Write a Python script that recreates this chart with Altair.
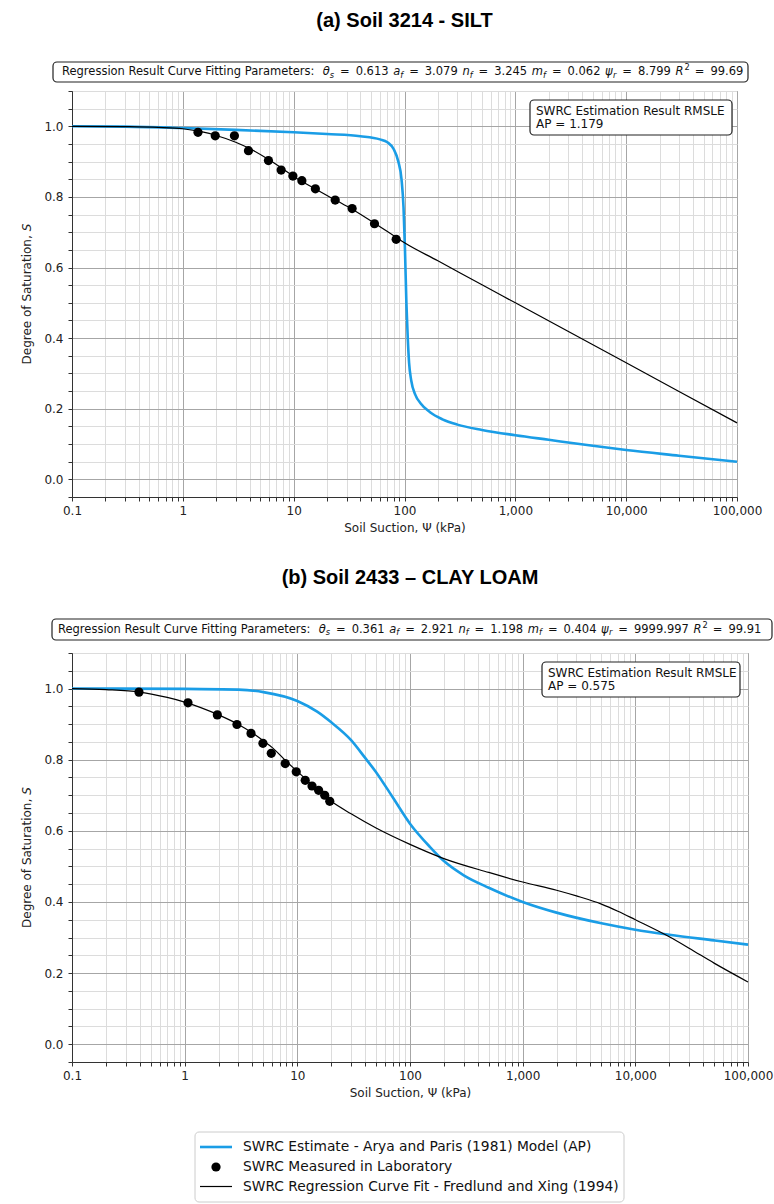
import altair as alt
import pandas as pd

# ---------------- data ----------------
# Soil 3214 (silt)
psi_meas_a = [1.37, 1.96, 2.92, 3.91, 5.92, 7.71, 9.84, 11.86, 15.7, 23.7, 33.7, 53.6, 84.1]
sat_meas_a = [0.983, 0.973, 0.973, 0.931, 0.903, 0.876, 0.859, 0.846, 0.823, 0.791, 0.767, 0.724, 0.680]
psi_fit_a = [0.1, 0.3, 0.6, 1, 1.5, 2, 3, 4, 6, 8, 10, 15, 20, 30, 50, 80, 100, 200, 500, 1000, 10000, 100000]
sat_fit_a = [1.0, 0.999, 0.997, 0.993, 0.984, 0.974, 0.955, 0.937, 0.905, 0.879, 0.858, 0.826, 0.804, 0.774,
             0.732, 0.690, 0.670, 0.619, 0.551, 0.500, 0.330, 0.160]
psi_ap_a = [0.1, 0.3, 1, 3, 10, 20, 40, 60, 70, 80, 88, 94, 98, 101, 104, 107, 110, 115, 125, 140, 170,
            220, 300, 500, 1000, 2000, 5000, 10000, 30000, 100000]
sat_ap_a = [1.0, 0.999, 0.995, 0.99, 0.983, 0.978, 0.972, 0.963, 0.955, 0.935, 0.90, 0.85, 0.77, 0.65, 0.50,
            0.40, 0.33, 0.28, 0.24, 0.215, 0.19, 0.17, 0.155, 0.14, 0.125, 0.112, 0.095, 0.083, 0.067, 0.05]

# Soil 2433 (clay loam)
psi_meas_b = [0.393, 1.07, 1.95, 2.91, 3.88, 4.95, 5.87, 7.81, 9.78, 11.75, 13.5, 15.45, 17.5, 19.4]
sat_meas_b = [0.990, 0.960, 0.926, 0.899, 0.874, 0.846, 0.818, 0.789, 0.766, 0.742, 0.726, 0.714, 0.700, 0.683]
psi_fit_b = [0.1, 0.2, 0.4, 0.7, 1, 2, 3, 4, 5, 6, 8, 10, 12, 15, 20, 30, 50, 100, 200, 500, 1000, 2000,
             3000, 5000, 7000, 10000, 20000, 30000, 50000, 100000]
sat_fit_b = [1.0, 0.997, 0.99, 0.975, 0.962, 0.926, 0.899, 0.875, 0.853, 0.834, 0.795, 0.767, 0.744, 0.716,
             0.683, 0.648, 0.608, 0.562, 0.522, 0.483, 0.456, 0.433, 0.417, 0.394, 0.374, 0.35, 0.302, 0.27,
             0.228, 0.175]
psi_ap_b = [0.1, 1, 3, 5, 10, 15, 20, 30, 40, 50, 70, 100, 150, 200, 300, 500, 1000, 2000, 5000, 10000,
            20000, 50000, 100000]
sat_ap_b = [1.0, 0.999, 0.997, 0.99, 0.965, 0.935, 0.905, 0.855, 0.805, 0.765, 0.695, 0.62, 0.555, 0.515,
            0.475, 0.44, 0.40, 0.37, 0.34, 0.322, 0.308, 0.292, 0.28]

# fitted parameters (theta_s, a_f, n_f, m_f, psi_r, R^2) and RMSLE
params_a = ["0.613", "3.079", "3.245", "0.062", "8.799", "99.69"]
params_b = ["0.361", "2.921", "1.198", "0.404", "9999.997", "99.91"]
rmsle_a = "1.179"
rmsle_b = "0.575"

series_names = [
    "SWRC Estimate - Arya and Paris (1981) Model (AP)",
    "SWRC Measured in Laboratory",
    "SWRC Regression Curve Fit - Fredlund and Xing (1994)",
]

decades = [0.1, 1, 10, 100, 1000, 10000, 100000]
x_ticks = sorted({round(m * d, 6) for d in decades[:-1] for m in range(1, 10)} | {100000})
y_ticks = [round(-0.05 + 0.05 * i, 2) for i in range(24)]

# ---------------- styling ----------------
BLUE = "#1a9de6"
FONT = "DejaVu Sans"
TITLE_FONT = "Liberation Sans"

MAJOR_X = "indexof([0.1, 1, 10, 100, 1000, 10000, 100000], datum.value) >= 0"
MAJOR_Y = "abs(datum.value * 5 - round(datum.value * 5)) < 0.001"

# approximate DejaVu Sans advance widths (em) for laying out inline text runs
WIDTHS = {" ": 0.318, ".": 0.318, ":": 0.337, "=": 0.838, "θ": 0.602, "ψ": 0.68, ",": 0.318, "D": 0.77,
          "S": 0.635}
WIDTHS.update({d: 0.636 for d in "0123456789"})
WIDTHS.update(dict(zip("RgrsionuCvFPatmefl", [0.695, 0.635, 0.411, 0.521, 0.278, 0.612, 0.634, 0.634, 0.698,
                                              0.592, 0.575, 0.603, 0.613, 0.392, 0.974, 0.615, 0.352, 0.278])))


def advance(s, size):
    return sum(WIDTHS.get(c, 0.6) for c in s) * size


def text_at(t, x, y, size=12, style="normal", color="#111", angle=0, align="left"):
    return alt.Chart(pd.DataFrame({"t": [t]})).mark_text(
        align=align, baseline="middle", font=FONT, fontSize=size, fontStyle=style, color=color, angle=angle
    ).encode(x=alt.value(x), y=alt.value(y), text="t:N")


def box_at(x0, x1, y0, y1, stroke="#222", width=1.2):
    return alt.Chart(pd.DataFrame({"k": [0]})).mark_rect(
        fill="white", stroke=stroke, strokeWidth=width, cornerRadius=4
    ).encode(x=alt.value(x0), x2=alt.value(x1), y=alt.value(y0), y2=alt.value(y1))


def param_banner(values, x0, y0, size):
    """Inline runs: prefix, then symbol / subscript / '=' / value groups."""
    layers = []
    x = x0
    symbols = ["θ", "a", "n", "m", "ψ", "R"]
    subs = ["s", "f", "f", "f", "r", "2"]
    prefix = "Regression Result Curve Fitting Parameters:"
    layers.append(text_at(prefix, x, y0, size))
    x += advance(prefix + " ", size) + 2
    small = size * 0.72
    for sym, sub, val in zip(symbols, subs, values):
        layers.append(text_at(sym, x, y0, size, "italic"))
        x += advance(sym, size)
        if sub == "2":
            layers.append(text_at(sub, x + 1, y0 - 4, small))
        else:
            layers.append(text_at(sub, x, y0 + 3.5, small, "italic"))
        x += advance(sub, small) + 6
        layers.append(text_at("=", x, y0, size))
        x += advance("=", size) + 6
        layers.append(text_at(val, x, y0, size))
        x += advance(val + " ", size) + 1
    return layers


def y_title(h, size=12):
    """Rotated y-axis title with an italic S."""
    plain = "Degree of Saturation, "
    total = advance(plain + "S", size)
    start = h / 2 + total / 2
    return [text_at(plain.strip(), -45, start, size, color="#222", angle=270),
            text_at("S", -45, start - advance(plain, size), size, "italic", color="#222", angle=270)]


def panel(title, w, h, meas, fit, est, params, rmsle, pbox, rbox, with_legend=False):
    xs = alt.Scale(type="log", domain=[0.1, 100000], nice=False)
    ys = alt.Scale(domain=[-0.05, 1.1], nice=False, zero=False)
    x_axis = alt.Axis(
        values=x_ticks, labelExpr=f"{MAJOR_X} ? format(datum.value, ',') : ''",
        title="Soil Suction, Ψ (kPa)", grid=True,
        gridColor={"condition": {"test": MAJOR_X, "value": "#a6a6a6"}, "value": "#dcdcdc"},
        gridWidth=1, tickSize=4, tickColor="#333", domainColor="#333", labelOverlap=False,
        labelFlush=False, labelFont=FONT, labelFontSize=12, labelColor="#222", labelPadding=4,
        titleFont=FONT, titleFontSize=12, titleFontWeight="normal", titleColor="#222", titlePadding=6,
    )
    y_axis = alt.Axis(
        values=y_ticks,
        labelExpr=f"{MAJOR_Y} && datum.value >= 0 && datum.value <= 1 ? format(datum.value, '.1f') : ''",
        title=None, grid=True,
        gridColor={"condition": {"test": MAJOR_Y, "value": "#a6a6a6"}, "value": "#dcdcdc"},
        gridWidth=1, tickSize=4, tickColor="#333", domainColor="#333", labelOverlap=False,
        labelFont=FONT, labelFontSize=12, labelColor="#222", labelPadding=5,
    )
    enc = dict(x=alt.X("psi:Q", scale=xs, axis=x_axis), y=alt.Y("S:Q", scale=ys, axis=y_axis))

    est_df = pd.DataFrame({"psi": est[0], "S": est[1]})
    fit_df = pd.DataFrame({"psi": fit[0], "S": fit[1]})
    meas_df = pd.DataFrame({"psi": meas[0], "S": meas[1]})

    est_line = alt.Chart(est_df).mark_line(color=BLUE, strokeWidth=2.6, interpolate="monotone").encode(**enc)
    fit_line = alt.Chart(fit_df).mark_line(color="black", strokeWidth=1.2, interpolate="monotone").encode(**enc)
    pts = alt.Chart(meas_df).mark_point(filled=True, color="black", size=85, opacity=1).encode(**enc)

    layers = [est_line, fit_line, pts]
    layers += y_title(h)

    # parameter banner above the plot
    bx0, bx1, by0, by1, tx = pbox
    layers.append(box_at(bx0, bx1, by0, by1))
    layers += param_banner(params, tx, (by0 + by1) / 2, 11.5)

    # RMSLE box inside the plot
    rx0, rx1, ry0, ry1 = rbox
    layers.append(box_at(rx0, rx1, ry0, ry1))
    layers.append(text_at("SWRC Estimation Result RMSLE", rx0 + 6, ry0 + 11))
    layers.append(text_at(f"AP = {rmsle}", rx0 + 6, ry0 + 24))

    if with_legend:
        lx0, ly0 = 123, 479
        rows_y = [ly0 + 15, ly0 + 35, ly0 + 54.5]
        layers.append(box_at(lx0, lx0 + 429, ly0, ly0 + 70, stroke="#cccccc", width=1))
        layers.append(alt.Chart(pd.DataFrame({"k": [0]})).mark_rule(color=BLUE, strokeWidth=2.6).encode(
            x=alt.value(lx0 + 5), x2=alt.value(lx0 + 37), y=alt.value(rows_y[0])))
        layers.append(alt.Chart(pd.DataFrame({"k": [0]})).mark_point(
            filled=True, color="black", size=85, opacity=1).encode(x=alt.value(lx0 + 21), y=alt.value(rows_y[1])))
        layers.append(alt.Chart(pd.DataFrame({"k": [0]})).mark_rule(color="black", strokeWidth=1.2).encode(
            x=alt.value(lx0 + 5), x2=alt.value(lx0 + 37), y=alt.value(rows_y[2])))
        for name, yy in zip(series_names, rows_y):
            layers.append(text_at(name, lx0 + 48, yy, 13.8))

    return alt.layer(*layers).properties(
        width=w, height=h,
        title=alt.TitleParams(title, font=TITLE_FONT, fontSize=20, fontWeight="bold", color="black",
                              anchor="middle", offset=30),
    )


chart_a = panel("(a) Soil 3214 - SILT", 665, 406,
                (psi_meas_a, sat_meas_a), (psi_fit_a, sat_fit_a), (psi_ap_a, sat_ap_a),
                params_a, rmsle_a, (-19, 676, -29, -9, -10), (458, 660, 9, 44))
chart_b = panel("(b) Soil 2433 – CLAY LOAM", 676, 409,
                (psi_meas_b, sat_meas_b), (psi_fit_b, sat_fit_b), (psi_ap_b, sat_ap_b),
                params_b, rmsle_b, (-20, 700, -34, -13, -14), (470, 668, 9, 44), with_legend=True)

chart = alt.vconcat(chart_a, chart_b, spacing=33).properties(
    padding={"left": 20, "top": 10, "right": 0, "bottom": 0}
).configure_view(stroke="#333", strokeWidth=1)

chart.save("out.html", embed_options={"renderer": "svg", "actions": False})
